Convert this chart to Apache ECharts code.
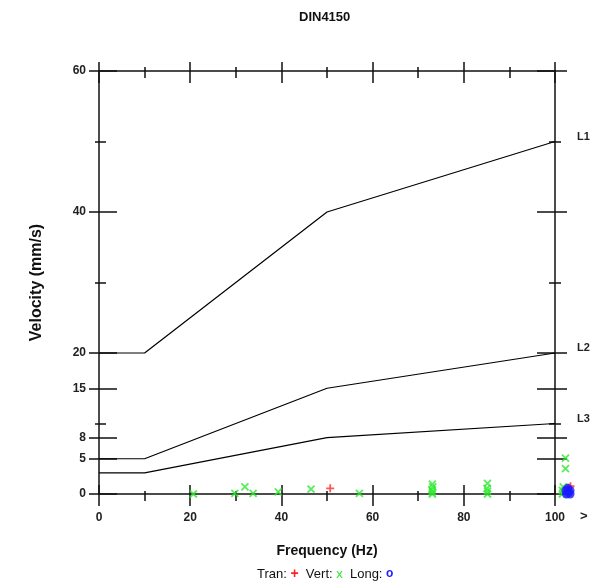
<!DOCTYPE html>
<html>
<head>
<meta charset="utf-8">
<script src="https://cdn.jsdelivr.net/npm/echarts@6/dist/echarts.min.js"></script>
<style>
  html, body { margin: 0; padding: 0; background: #fff; }
  #chart { width: 596px; height: 588px; }
</style>
</head>
<body>
<div id="chart"></div>
<script>
// DIN4150 guide lines
const freq = [0, 10, 50, 100];
const lineL1 = [20, 20, 40, 50];
const lineL2 = [5, 5, 15, 20];
const lineL3 = [3, 3, 8, 10];

// measured peaks [freq, velocity]
const vertPts = [
  [20.7, 0], [29.8, 0.1], [32, 1.0], [33.8, 0.1], [39.3, 0.3], [46.5, 0.7], [57.1, 0.1],
  [73.1, 0], [73.1, 0.3], [73.0, 0.6], [73.2, 1.0], [73.1, 1.4],
  [85.2, 0], [85.2, 0.4], [85.1, 0.8], [85.2, 1.5],
  [101.6, 0], [101.6, 0.5], [101.8, 1.0], [102.3, 3.6], [102.3, 5.1]
];
const tranPts = [[50.7, 0.8], [102.9, 0.9], [103.4, 1.1]];
const longPts = [[102.5, 0], [103.0, 0.2], [103.3, 0.5], [102.8, 0.8], [103.3, 0], [102.4, 0.5]];

// ticks
const xMajor = [0, 20, 40, 60, 80, 100];
const xMinor = [10, 30, 50, 70, 90];
const yMajor = [0, 5, 8, 15, 20, 40, 60];
const yMinor = [10, 30, 50];

const font = 'Liberation Sans, Arial, sans-serif';
const ink = '#111';

// four stacked axes to draw ticks crossing the axis line
function makeAxes(dim, pos, major, minor, t, extra) {
  const isX = dim === 'x';
  const base = { type: 'value', position: pos, min: 0, max: isX ? 100 : 60, splitLine: { show: false } };
  const line = { show: false, onZero: false };
  const axes = [
    Object.assign({}, base, {
      axisLine: { show: true, onZero: false, lineStyle: { color: ink, width: 1.5 } },
      axisTick: { show: true, customValues: major, inside: false, length: t[0], lineStyle: { color: ink, width: 1.5 } },
      axisLabel: { show: false }
    }, extra || {}),
    Object.assign({}, base, {
      axisLine: line,
      axisTick: { show: true, customValues: major, inside: true, length: t[1], lineStyle: { color: ink, width: 1.5 } },
      axisLabel: { show: false }
    }),
    Object.assign({}, base, {
      axisLine: line,
      axisTick: { show: true, customValues: minor, inside: false, length: t[2], lineStyle: { color: ink, width: 1.5 } },
      axisLabel: { show: false }
    }),
    Object.assign({}, base, {
      axisLine: line,
      axisTick: { show: true, customValues: minor, inside: true, length: t[3], lineStyle: { color: ink, width: 1.5 } },
      axisLabel: { show: false }
    })
  ];
  return axes;
}

const xAxes = makeAxes('x', 'bottom', xMajor, xMinor, [12, 9, 7, 3], {
  name: 'Frequency (Hz)',
  nameLocation: 'middle',
  nameGap: 50,
  nameTextStyle: { fontFamily: font, fontSize: 14, fontWeight: 'bold', color: ink },
  axisLabel: { show: true, customValues: xMajor, margin: 18, fontFamily: font, fontSize: 12, fontWeight: 'bold', color: '#222' }
}).concat(makeAxes('x', 'top', xMajor, xMinor, [9, 12, 4, 7]));

const yAxes = makeAxes('y', 'left', yMajor, yMinor, [10, 18, 4, 7], {
  name: 'Velocity (mm/s)',
  nameLocation: 'middle',
  nameGap: 54,
  nameTextStyle: { fontFamily: font, fontSize: 16, fontWeight: 'bold', color: ink },
  axisLabel: { show: true, customValues: yMajor, margin: 13, fontFamily: font, fontSize: 12, fontWeight: 'bold', color: '#222' }
}).concat(makeAxes('y', 'right', yMajor, yMinor, [12, 18, 6, 6]));

function guide(name, vals) {
  return {
    name: name,
    type: 'line',
    data: freq.map((f, i) => [f, vals[i]]),
    symbol: 'none',
    silent: true,
    lineStyle: { color: '#000', width: 1.2 },
    endLabel: {
      show: true,
      formatter: name,
      distance: 22,
      offset: [0, -5],
      fontFamily: font,
      fontSize: 11,
      fontWeight: 'bold',
      color: '#222'
    }
  };
}

const crossPath = 'path://M0,0L10,10M10,0L0,10';
const plusPath = 'path://M5,0L5,10M0,5L10,5';

const option = {
  animation: false,
  backgroundColor: '#fff',
  title: {
    text: 'DIN4150',
    left: 294,
    top: 6,
    textStyle: { fontFamily: font, fontSize: 13, fontWeight: 'bold', color: ink }
  },
  grid: { left: 99, right: 41, top: 71, bottom: 94 },
  xAxis: xAxes,
  yAxis: yAxes,
  series: [
    guide('L1', lineL1),
    guide('L2', lineL2),
    guide('L3', lineL3),
    {
      name: 'Vert',
      type: 'scatter',
      clip: false,
      data: vertPts,
      symbol: crossPath,
      symbolSize: 7,
      itemStyle: { color: 'none', borderColor: '#2ee82e', borderWidth: 1.8 }
    },
    {
      name: 'Tran',
      type: 'scatter',
      clip: false,
      data: tranPts,
      symbol: plusPath,
      symbolSize: 8,
      itemStyle: { color: 'none', borderColor: '#ff2a2a', borderWidth: 1.8 }
    },
    {
      name: 'Long',
      type: 'scatter',
      clip: false,
      data: longPts,
      symbol: 'circle',
      symbolSize: 9,
      itemStyle: { color: '#1a1aff' }
    }
  ],
  graphic: [
    {
      type: 'text',
      left: 580,
      top: 510,
      style: { text: '>', fontFamily: font, fontSize: 13, fontWeight: 'bold', fill: '#222' }
    },
    {
      type: 'text',
      left: 257,
      top: 567,
      style: {
        text: 'Tran: {r|+}  Vert: {g|x}  Long: {b|o}',
        fontFamily: font,
        fontSize: 13,
        fill: ink,
        rich: {
          r: { fill: '#ff2020', fontSize: 14, fontWeight: 'bold', fontFamily: font },
          g: { fill: '#2ee82e', fontSize: 13, fontFamily: font },
          b: { fill: '#2020ff', fontSize: 12, fontWeight: 'bold', fontFamily: font }
        }
      }
    }
  ]
};

const chart = echarts.init(document.getElementById('chart'));
chart.setOption(option);
</script>
</body>
</html>
